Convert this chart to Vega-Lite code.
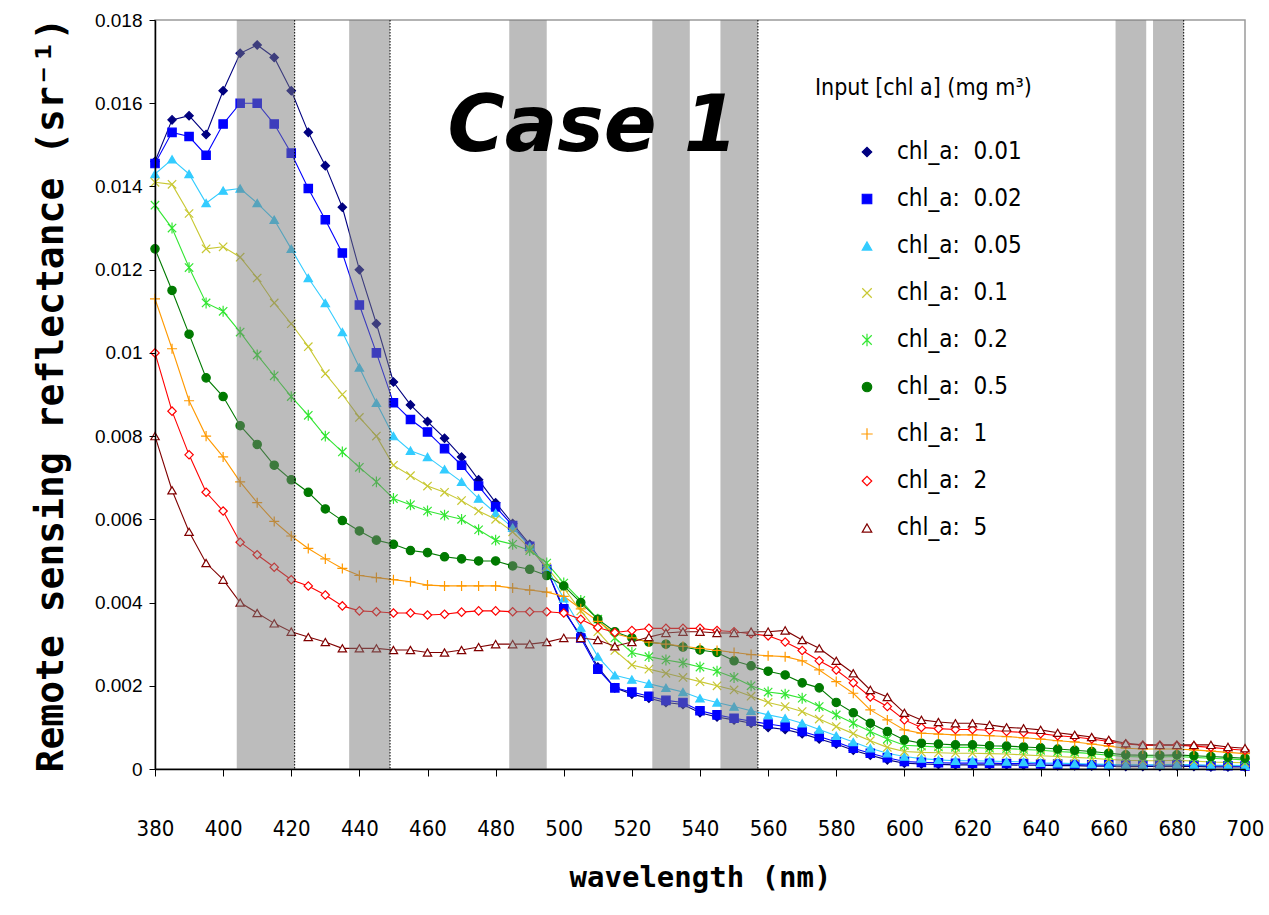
{
"$schema":"https://vega.github.io/schema/vega-lite/v6.json",
"width":1090,"height":749,
"autosize":{"type":"none"},
"padding":{"left":155,"top":20,"right":24,"bottom":146},
"background":"white",
"config":{"view":{"stroke":"#9a9a9a","strokeWidth":1.5},"font":"Liberation Sans"},
"datasets":{
"bands":[{"start":404,"end":421,"edge":true},{"start":437,"end":449,"edge":true},{"start":484,"end":495,"edge":false},{"start":526,"end":537,"edge":false},{"start":546,"end":557,"edge":true},{"start":662,"end":671,"edge":false},{"start":673,"end":682,"edge":true}],
"spectra":[
{"c":"0.01","w":380,"r":0.0146},{"c":"0.01","w":385,"r":0.0156},{"c":"0.01","w":390,"r":0.0157},{"c":"0.01","w":395,"r":0.01525},{"c":"0.01","w":400,"r":0.0163},{"c":"0.01","w":405,"r":0.0172},{"c":"0.01","w":410,"r":0.0174},{"c":"0.01","w":415,"r":0.0171},{"c":"0.01","w":420,"r":0.0163},{"c":"0.01","w":425,"r":0.0153},{"c":"0.01","w":430,"r":0.0145},{"c":"0.01","w":435,"r":0.0135},{"c":"0.01","w":440,"r":0.012},{"c":"0.01","w":445,"r":0.0107},{"c":"0.01","w":450,"r":0.0093},{"c":"0.01","w":455,"r":0.00875},{"c":"0.01","w":460,"r":0.00835},{"c":"0.01","w":465,"r":0.00795},{"c":"0.01","w":470,"r":0.0075},{"c":"0.01","w":475,"r":0.00695},{"c":"0.01","w":480,"r":0.0064},{"c":"0.01","w":485,"r":0.0059},{"c":"0.01","w":490,"r":0.0054},{"c":"0.01","w":495,"r":0.0048},{"c":"0.01","w":500,"r":0.0038},{"c":"0.01","w":505,"r":0.0032},{"c":"0.01","w":510,"r":0.00245},{"c":"0.01","w":515,"r":0.00195},{"c":"0.01","w":520,"r":0.0018},{"c":"0.01","w":525,"r":0.0017},{"c":"0.01","w":530,"r":0.0016},{"c":"0.01","w":535,"r":0.00155},{"c":"0.01","w":540,"r":0.00135},{"c":"0.01","w":545,"r":0.00125},{"c":"0.01","w":550,"r":0.00118},{"c":"0.01","w":555,"r":0.0011},{"c":"0.01","w":560,"r":0.001},{"c":"0.01","w":565,"r":0.00095},{"c":"0.01","w":570,"r":0.00085},{"c":"0.01","w":575,"r":0.00072},{"c":"0.01","w":580,"r":0.0006},{"c":"0.01","w":585,"r":0.00045},{"c":"0.01","w":590,"r":0.00033},{"c":"0.01","w":595,"r":0.00022},{"c":"0.01","w":600,"r":0.00014},{"c":"0.01","w":605,"r":0.00012},{"c":"0.01","w":610,"r":0.00011},{"c":"0.01","w":615,"r":0.0001},{"c":"0.01","w":620,"r":0.0001},{"c":"0.01","w":625,"r":0.0001},{"c":"0.01","w":630,"r":0.0001},{"c":"0.01","w":635,"r":0.00009},{"c":"0.01","w":640,"r":0.00009},{"c":"0.01","w":645,"r":0.00008},{"c":"0.01","w":650,"r":0.00008},{"c":"0.01","w":655,"r":0.00007},{"c":"0.01","w":660,"r":0.00007},{"c":"0.01","w":665,"r":0.00006},{"c":"0.01","w":670,"r":0.00006},{"c":"0.01","w":675,"r":0.00006},{"c":"0.01","w":680,"r":0.00007},{"c":"0.01","w":685,"r":0.00006},{"c":"0.01","w":690,"r":0.00005},{"c":"0.01","w":695,"r":0.00005},{"c":"0.01","w":700,"r":0.00005},
{"c":"0.02","w":380,"r":0.01455},{"c":"0.02","w":385,"r":0.0153},{"c":"0.02","w":390,"r":0.0152},{"c":"0.02","w":395,"r":0.01475},{"c":"0.02","w":400,"r":0.0155},{"c":"0.02","w":405,"r":0.016},{"c":"0.02","w":410,"r":0.016},{"c":"0.02","w":415,"r":0.0155},{"c":"0.02","w":420,"r":0.0148},{"c":"0.02","w":425,"r":0.01395},{"c":"0.02","w":430,"r":0.0132},{"c":"0.02","w":435,"r":0.0124},{"c":"0.02","w":440,"r":0.01115},{"c":"0.02","w":445,"r":0.01},{"c":"0.02","w":450,"r":0.0088},{"c":"0.02","w":455,"r":0.0084},{"c":"0.02","w":460,"r":0.0081},{"c":"0.02","w":465,"r":0.0077},{"c":"0.02","w":470,"r":0.0073},{"c":"0.02","w":475,"r":0.0068},{"c":"0.02","w":480,"r":0.0063},{"c":"0.02","w":485,"r":0.00585},{"c":"0.02","w":490,"r":0.00535},{"c":"0.02","w":495,"r":0.0048},{"c":"0.02","w":500,"r":0.00385},{"c":"0.02","w":505,"r":0.00315},{"c":"0.02","w":510,"r":0.0024},{"c":"0.02","w":515,"r":0.00195},{"c":"0.02","w":520,"r":0.00185},{"c":"0.02","w":525,"r":0.00175},{"c":"0.02","w":530,"r":0.00165},{"c":"0.02","w":535,"r":0.0016},{"c":"0.02","w":540,"r":0.0014},{"c":"0.02","w":545,"r":0.0013},{"c":"0.02","w":550,"r":0.00122},{"c":"0.02","w":555,"r":0.00115},{"c":"0.02","w":560,"r":0.00108},{"c":"0.02","w":565,"r":0.00102},{"c":"0.02","w":570,"r":0.0009},{"c":"0.02","w":575,"r":0.00078},{"c":"0.02","w":580,"r":0.00065},{"c":"0.02","w":585,"r":0.0005},{"c":"0.02","w":590,"r":0.00038},{"c":"0.02","w":595,"r":0.00027},{"c":"0.02","w":600,"r":0.00018},{"c":"0.02","w":605,"r":0.00016},{"c":"0.02","w":610,"r":0.00015},{"c":"0.02","w":615,"r":0.00014},{"c":"0.02","w":620,"r":0.00014},{"c":"0.02","w":625,"r":0.00014},{"c":"0.02","w":630,"r":0.00013},{"c":"0.02","w":635,"r":0.00013},{"c":"0.02","w":640,"r":0.00012},{"c":"0.02","w":645,"r":0.00012},{"c":"0.02","w":650,"r":0.00011},{"c":"0.02","w":655,"r":0.0001},{"c":"0.02","w":660,"r":0.0001},{"c":"0.02","w":665,"r":0.00009},{"c":"0.02","w":670,"r":0.00009},{"c":"0.02","w":675,"r":0.00009},{"c":"0.02","w":680,"r":0.0001},{"c":"0.02","w":685,"r":0.00009},{"c":"0.02","w":690,"r":0.00008},{"c":"0.02","w":695,"r":0.00008},{"c":"0.02","w":700,"r":0.00007},
{"c":"0.05","w":380,"r":0.0143},{"c":"0.05","w":385,"r":0.01465},{"c":"0.05","w":390,"r":0.0143},{"c":"0.05","w":395,"r":0.0136},{"c":"0.05","w":400,"r":0.0139},{"c":"0.05","w":405,"r":0.01395},{"c":"0.05","w":410,"r":0.0136},{"c":"0.05","w":415,"r":0.0132},{"c":"0.05","w":420,"r":0.0125},{"c":"0.05","w":425,"r":0.0118},{"c":"0.05","w":430,"r":0.0112},{"c":"0.05","w":435,"r":0.0105},{"c":"0.05","w":440,"r":0.00965},{"c":"0.05","w":445,"r":0.0088},{"c":"0.05","w":450,"r":0.008},{"c":"0.05","w":455,"r":0.00765},{"c":"0.05","w":460,"r":0.0075},{"c":"0.05","w":465,"r":0.0072},{"c":"0.05","w":470,"r":0.0069},{"c":"0.05","w":475,"r":0.0065},{"c":"0.05","w":480,"r":0.00615},{"c":"0.05","w":485,"r":0.0058},{"c":"0.05","w":490,"r":0.00535},{"c":"0.05","w":495,"r":0.00485},{"c":"0.05","w":500,"r":0.0041},{"c":"0.05","w":505,"r":0.0034},{"c":"0.05","w":510,"r":0.0027},{"c":"0.05","w":515,"r":0.00225},{"c":"0.05","w":520,"r":0.00215},{"c":"0.05","w":525,"r":0.00205},{"c":"0.05","w":530,"r":0.00195},{"c":"0.05","w":535,"r":0.00185},{"c":"0.05","w":540,"r":0.0017},{"c":"0.05","w":545,"r":0.0016},{"c":"0.05","w":550,"r":0.0015},{"c":"0.05","w":555,"r":0.0014},{"c":"0.05","w":560,"r":0.0013},{"c":"0.05","w":565,"r":0.00122},{"c":"0.05","w":570,"r":0.0011},{"c":"0.05","w":575,"r":0.00095},{"c":"0.05","w":580,"r":0.0008},{"c":"0.05","w":585,"r":0.00065},{"c":"0.05","w":590,"r":0.0005},{"c":"0.05","w":595,"r":0.00038},{"c":"0.05","w":600,"r":0.0003},{"c":"0.05","w":605,"r":0.00025},{"c":"0.05","w":610,"r":0.00022},{"c":"0.05","w":615,"r":0.0002},{"c":"0.05","w":620,"r":0.0002},{"c":"0.05","w":625,"r":0.00019},{"c":"0.05","w":630,"r":0.00018},{"c":"0.05","w":635,"r":0.00017},{"c":"0.05","w":640,"r":0.00015},{"c":"0.05","w":645,"r":0.00014},{"c":"0.05","w":650,"r":0.00013},{"c":"0.05","w":655,"r":0.00012},{"c":"0.05","w":660,"r":0.00011},{"c":"0.05","w":665,"r":0.0001},{"c":"0.05","w":670,"r":0.0001},{"c":"0.05","w":675,"r":0.0001},{"c":"0.05","w":680,"r":0.00011},{"c":"0.05","w":685,"r":0.0001},{"c":"0.05","w":690,"r":0.00009},{"c":"0.05","w":695,"r":0.00009},{"c":"0.05","w":700,"r":0.00008},
{"c":"0.1","w":380,"r":0.0141},{"c":"0.1","w":385,"r":0.01405},{"c":"0.1","w":390,"r":0.01335},{"c":"0.1","w":395,"r":0.0125},{"c":"0.1","w":400,"r":0.01255},{"c":"0.1","w":405,"r":0.0123},{"c":"0.1","w":410,"r":0.0118},{"c":"0.1","w":415,"r":0.0112},{"c":"0.1","w":420,"r":0.0107},{"c":"0.1","w":425,"r":0.01015},{"c":"0.1","w":430,"r":0.0095},{"c":"0.1","w":435,"r":0.009},{"c":"0.1","w":440,"r":0.00845},{"c":"0.1","w":445,"r":0.008},{"c":"0.1","w":450,"r":0.0073},{"c":"0.1","w":455,"r":0.00705},{"c":"0.1","w":460,"r":0.0068},{"c":"0.1","w":465,"r":0.00665},{"c":"0.1","w":470,"r":0.00645},{"c":"0.1","w":475,"r":0.0062},{"c":"0.1","w":480,"r":0.006},{"c":"0.1","w":485,"r":0.0057},{"c":"0.1","w":490,"r":0.0053},{"c":"0.1","w":495,"r":0.00485},{"c":"0.1","w":500,"r":0.00435},{"c":"0.1","w":505,"r":0.0038},{"c":"0.1","w":510,"r":0.0033},{"c":"0.1","w":515,"r":0.00285},{"c":"0.1","w":520,"r":0.0025},{"c":"0.1","w":525,"r":0.0024},{"c":"0.1","w":530,"r":0.0023},{"c":"0.1","w":535,"r":0.0022},{"c":"0.1","w":540,"r":0.0021},{"c":"0.1","w":545,"r":0.002},{"c":"0.1","w":550,"r":0.0019},{"c":"0.1","w":555,"r":0.00175},{"c":"0.1","w":560,"r":0.0016},{"c":"0.1","w":565,"r":0.0015},{"c":"0.1","w":570,"r":0.00138},{"c":"0.1","w":575,"r":0.0012},{"c":"0.1","w":580,"r":0.00102},{"c":"0.1","w":585,"r":0.00085},{"c":"0.1","w":590,"r":0.00068},{"c":"0.1","w":595,"r":0.00052},{"c":"0.1","w":600,"r":0.00042},{"c":"0.1","w":605,"r":0.0004},{"c":"0.1","w":610,"r":0.00039},{"c":"0.1","w":615,"r":0.00038},{"c":"0.1","w":620,"r":0.00038},{"c":"0.1","w":625,"r":0.00037},{"c":"0.1","w":630,"r":0.00036},{"c":"0.1","w":635,"r":0.00034},{"c":"0.1","w":640,"r":0.00032},{"c":"0.1","w":645,"r":0.0003},{"c":"0.1","w":650,"r":0.00028},{"c":"0.1","w":655,"r":0.00026},{"c":"0.1","w":660,"r":0.00023},{"c":"0.1","w":665,"r":0.00021},{"c":"0.1","w":670,"r":0.0002},{"c":"0.1","w":675,"r":0.0002},{"c":"0.1","w":680,"r":0.00021},{"c":"0.1","w":685,"r":0.00019},{"c":"0.1","w":690,"r":0.00017},{"c":"0.1","w":695,"r":0.00016},{"c":"0.1","w":700,"r":0.00015},
{"c":"0.2","w":380,"r":0.01355},{"c":"0.2","w":385,"r":0.013},{"c":"0.2","w":390,"r":0.01205},{"c":"0.2","w":395,"r":0.0112},{"c":"0.2","w":400,"r":0.011},{"c":"0.2","w":405,"r":0.0105},{"c":"0.2","w":410,"r":0.00995},{"c":"0.2","w":415,"r":0.00945},{"c":"0.2","w":420,"r":0.00895},{"c":"0.2","w":425,"r":0.0085},{"c":"0.2","w":430,"r":0.008},{"c":"0.2","w":435,"r":0.00762},{"c":"0.2","w":440,"r":0.00725},{"c":"0.2","w":445,"r":0.0069},{"c":"0.2","w":450,"r":0.0065},{"c":"0.2","w":455,"r":0.00635},{"c":"0.2","w":460,"r":0.0062},{"c":"0.2","w":465,"r":0.0061},{"c":"0.2","w":470,"r":0.006},{"c":"0.2","w":475,"r":0.00575},{"c":"0.2","w":480,"r":0.0055},{"c":"0.2","w":485,"r":0.0054},{"c":"0.2","w":490,"r":0.00525},{"c":"0.2","w":495,"r":0.00495},{"c":"0.2","w":500,"r":0.00447},{"c":"0.2","w":505,"r":0.00405},{"c":"0.2","w":510,"r":0.0036},{"c":"0.2","w":515,"r":0.00315},{"c":"0.2","w":520,"r":0.0028},{"c":"0.2","w":525,"r":0.0027},{"c":"0.2","w":530,"r":0.00262},{"c":"0.2","w":535,"r":0.00255},{"c":"0.2","w":540,"r":0.00245},{"c":"0.2","w":545,"r":0.00235},{"c":"0.2","w":550,"r":0.0022},{"c":"0.2","w":555,"r":0.002},{"c":"0.2","w":560,"r":0.00185},{"c":"0.2","w":565,"r":0.0018},{"c":"0.2","w":570,"r":0.0017},{"c":"0.2","w":575,"r":0.0015},{"c":"0.2","w":580,"r":0.0013},{"c":"0.2","w":585,"r":0.0011},{"c":"0.2","w":590,"r":0.0009},{"c":"0.2","w":595,"r":0.00072},{"c":"0.2","w":600,"r":0.00057},{"c":"0.2","w":605,"r":0.00055},{"c":"0.2","w":610,"r":0.00053},{"c":"0.2","w":615,"r":0.00052},{"c":"0.2","w":620,"r":0.00052},{"c":"0.2","w":625,"r":0.0005},{"c":"0.2","w":630,"r":0.00049},{"c":"0.2","w":635,"r":0.00047},{"c":"0.2","w":640,"r":0.00045},{"c":"0.2","w":645,"r":0.00042},{"c":"0.2","w":650,"r":0.0004},{"c":"0.2","w":655,"r":0.00037},{"c":"0.2","w":660,"r":0.00033},{"c":"0.2","w":665,"r":0.0003},{"c":"0.2","w":670,"r":0.00029},{"c":"0.2","w":675,"r":0.00029},{"c":"0.2","w":680,"r":0.0003},{"c":"0.2","w":685,"r":0.00028},{"c":"0.2","w":690,"r":0.00026},{"c":"0.2","w":695,"r":0.00024},{"c":"0.2","w":700,"r":0.00022},
{"c":"0.5","w":380,"r":0.0125},{"c":"0.5","w":385,"r":0.0115},{"c":"0.5","w":390,"r":0.01045},{"c":"0.5","w":395,"r":0.0094},{"c":"0.5","w":400,"r":0.00895},{"c":"0.5","w":405,"r":0.00825},{"c":"0.5","w":410,"r":0.0078},{"c":"0.5","w":415,"r":0.0073},{"c":"0.5","w":420,"r":0.00695},{"c":"0.5","w":425,"r":0.00665},{"c":"0.5","w":430,"r":0.00625},{"c":"0.5","w":435,"r":0.00597},{"c":"0.5","w":440,"r":0.00572},{"c":"0.5","w":445,"r":0.0055},{"c":"0.5","w":450,"r":0.0054},{"c":"0.5","w":455,"r":0.00525},{"c":"0.5","w":460,"r":0.0052},{"c":"0.5","w":465,"r":0.0051},{"c":"0.5","w":470,"r":0.00505},{"c":"0.5","w":475,"r":0.005},{"c":"0.5","w":480,"r":0.005},{"c":"0.5","w":485,"r":0.00488},{"c":"0.5","w":490,"r":0.0048},{"c":"0.5","w":495,"r":0.00465},{"c":"0.5","w":500,"r":0.0044},{"c":"0.5","w":505,"r":0.004},{"c":"0.5","w":510,"r":0.0036},{"c":"0.5","w":515,"r":0.0033},{"c":"0.5","w":520,"r":0.00315},{"c":"0.5","w":525,"r":0.00305},{"c":"0.5","w":530,"r":0.003},{"c":"0.5","w":535,"r":0.00293},{"c":"0.5","w":540,"r":0.00286},{"c":"0.5","w":545,"r":0.0028},{"c":"0.5","w":550,"r":0.0026},{"c":"0.5","w":555,"r":0.00248},{"c":"0.5","w":560,"r":0.00235},{"c":"0.5","w":565,"r":0.00226},{"c":"0.5","w":570,"r":0.00207},{"c":"0.5","w":575,"r":0.00195},{"c":"0.5","w":580,"r":0.0016},{"c":"0.5","w":585,"r":0.00135},{"c":"0.5","w":590,"r":0.0011},{"c":"0.5","w":595,"r":0.0009},{"c":"0.5","w":600,"r":0.0007},{"c":"0.5","w":605,"r":0.00062},{"c":"0.5","w":610,"r":0.0006},{"c":"0.5","w":615,"r":0.00058},{"c":"0.5","w":620,"r":0.00058},{"c":"0.5","w":625,"r":0.00056},{"c":"0.5","w":630,"r":0.00055},{"c":"0.5","w":635,"r":0.00053},{"c":"0.5","w":640,"r":0.00051},{"c":"0.5","w":645,"r":0.00048},{"c":"0.5","w":650,"r":0.00045},{"c":"0.5","w":655,"r":0.00042},{"c":"0.5","w":660,"r":0.00038},{"c":"0.5","w":665,"r":0.00034},{"c":"0.5","w":670,"r":0.00033},{"c":"0.5","w":675,"r":0.00033},{"c":"0.5","w":680,"r":0.00034},{"c":"0.5","w":685,"r":0.00032},{"c":"0.5","w":690,"r":0.0003},{"c":"0.5","w":695,"r":0.00028},{"c":"0.5","w":700,"r":0.00026},
{"c":"1","w":380,"r":0.0113},{"c":"1","w":385,"r":0.0101},{"c":"1","w":390,"r":0.00885},{"c":"1","w":395,"r":0.008},{"c":"1","w":400,"r":0.0075},{"c":"1","w":405,"r":0.0069},{"c":"1","w":410,"r":0.0064},{"c":"1","w":415,"r":0.00595},{"c":"1","w":420,"r":0.0056},{"c":"1","w":425,"r":0.0053},{"c":"1","w":430,"r":0.00505},{"c":"1","w":435,"r":0.00482},{"c":"1","w":440,"r":0.00465},{"c":"1","w":445,"r":0.0046},{"c":"1","w":450,"r":0.00455},{"c":"1","w":455,"r":0.0045},{"c":"1","w":460,"r":0.00442},{"c":"1","w":465,"r":0.0044},{"c":"1","w":470,"r":0.0044},{"c":"1","w":475,"r":0.0044},{"c":"1","w":480,"r":0.0044},{"c":"1","w":485,"r":0.00435},{"c":"1","w":490,"r":0.0043},{"c":"1","w":495,"r":0.00425},{"c":"1","w":500,"r":0.00415},{"c":"1","w":505,"r":0.00385},{"c":"1","w":510,"r":0.00355},{"c":"1","w":515,"r":0.00325},{"c":"1","w":520,"r":0.00315},{"c":"1","w":525,"r":0.00305},{"c":"1","w":530,"r":0.003},{"c":"1","w":535,"r":0.00295},{"c":"1","w":540,"r":0.0029},{"c":"1","w":545,"r":0.00285},{"c":"1","w":550,"r":0.0028},{"c":"1","w":555,"r":0.00275},{"c":"1","w":560,"r":0.00272},{"c":"1","w":565,"r":0.0027},{"c":"1","w":570,"r":0.0026},{"c":"1","w":575,"r":0.00238},{"c":"1","w":580,"r":0.0021},{"c":"1","w":585,"r":0.00182},{"c":"1","w":590,"r":0.00142},{"c":"1","w":595,"r":0.00118},{"c":"1","w":600,"r":0.00094},{"c":"1","w":605,"r":0.00086},{"c":"1","w":610,"r":0.00084},{"c":"1","w":615,"r":0.00082},{"c":"1","w":620,"r":0.00082},{"c":"1","w":625,"r":0.0008},{"c":"1","w":630,"r":0.00078},{"c":"1","w":635,"r":0.00075},{"c":"1","w":640,"r":0.00072},{"c":"1","w":645,"r":0.00068},{"c":"1","w":650,"r":0.00065},{"c":"1","w":655,"r":0.0006},{"c":"1","w":660,"r":0.00055},{"c":"1","w":665,"r":0.0005},{"c":"1","w":670,"r":0.00048},{"c":"1","w":675,"r":0.00048},{"c":"1","w":680,"r":0.00048},{"c":"1","w":685,"r":0.00046},{"c":"1","w":690,"r":0.00043},{"c":"1","w":695,"r":0.0004},{"c":"1","w":700,"r":0.00037},
{"c":"2","w":380,"r":0.01},{"c":"2","w":385,"r":0.0086},{"c":"2","w":390,"r":0.00755},{"c":"2","w":395,"r":0.00665},{"c":"2","w":400,"r":0.0062},{"c":"2","w":405,"r":0.00545},{"c":"2","w":410,"r":0.00515},{"c":"2","w":415,"r":0.00485},{"c":"2","w":420,"r":0.00455},{"c":"2","w":425,"r":0.0044},{"c":"2","w":430,"r":0.00418},{"c":"2","w":435,"r":0.00392},{"c":"2","w":440,"r":0.0038},{"c":"2","w":445,"r":0.00378},{"c":"2","w":450,"r":0.00375},{"c":"2","w":455,"r":0.00375},{"c":"2","w":460,"r":0.0037},{"c":"2","w":465,"r":0.00372},{"c":"2","w":470,"r":0.00377},{"c":"2","w":475,"r":0.0038},{"c":"2","w":480,"r":0.0038},{"c":"2","w":485,"r":0.00378},{"c":"2","w":490,"r":0.00378},{"c":"2","w":495,"r":0.00378},{"c":"2","w":500,"r":0.00375},{"c":"2","w":505,"r":0.0036},{"c":"2","w":510,"r":0.0034},{"c":"2","w":515,"r":0.00328},{"c":"2","w":520,"r":0.00333},{"c":"2","w":525,"r":0.00338},{"c":"2","w":530,"r":0.00338},{"c":"2","w":535,"r":0.00338},{"c":"2","w":540,"r":0.00338},{"c":"2","w":545,"r":0.00333},{"c":"2","w":550,"r":0.0033},{"c":"2","w":555,"r":0.00325},{"c":"2","w":560,"r":0.0032},{"c":"2","w":565,"r":0.00305},{"c":"2","w":570,"r":0.00285},{"c":"2","w":575,"r":0.0026},{"c":"2","w":580,"r":0.00238},{"c":"2","w":585,"r":0.00207},{"c":"2","w":590,"r":0.00173},{"c":"2","w":595,"r":0.0015},{"c":"2","w":600,"r":0.00118},{"c":"2","w":605,"r":0.001},{"c":"2","w":610,"r":0.00097},{"c":"2","w":615,"r":0.00095},{"c":"2","w":620,"r":0.00095},{"c":"2","w":625,"r":0.00093},{"c":"2","w":630,"r":0.0009},{"c":"2","w":635,"r":0.00088},{"c":"2","w":640,"r":0.00085},{"c":"2","w":645,"r":0.0008},{"c":"2","w":650,"r":0.00077},{"c":"2","w":655,"r":0.00072},{"c":"2","w":660,"r":0.00066},{"c":"2","w":665,"r":0.0006},{"c":"2","w":670,"r":0.00057},{"c":"2","w":675,"r":0.00057},{"c":"2","w":680,"r":0.00057},{"c":"2","w":685,"r":0.00055},{"c":"2","w":690,"r":0.00052},{"c":"2","w":695,"r":0.00048},{"c":"2","w":700,"r":0.00045},
{"c":"5","w":380,"r":0.008},{"c":"5","w":385,"r":0.0067},{"c":"5","w":390,"r":0.0057},{"c":"5","w":395,"r":0.00495},{"c":"5","w":400,"r":0.00455},{"c":"5","w":405,"r":0.004},{"c":"5","w":410,"r":0.00375},{"c":"5","w":415,"r":0.0035},{"c":"5","w":420,"r":0.0033},{"c":"5","w":425,"r":0.00317},{"c":"5","w":430,"r":0.00305},{"c":"5","w":435,"r":0.0029},{"c":"5","w":440,"r":0.0029},{"c":"5","w":445,"r":0.0029},{"c":"5","w":450,"r":0.00286},{"c":"5","w":455,"r":0.00286},{"c":"5","w":460,"r":0.0028},{"c":"5","w":465,"r":0.0028},{"c":"5","w":470,"r":0.00286},{"c":"5","w":475,"r":0.00293},{"c":"5","w":480,"r":0.003},{"c":"5","w":485,"r":0.003},{"c":"5","w":490,"r":0.003},{"c":"5","w":495,"r":0.00305},{"c":"5","w":500,"r":0.00315},{"c":"5","w":505,"r":0.00315},{"c":"5","w":510,"r":0.0031},{"c":"5","w":515,"r":0.00295},{"c":"5","w":520,"r":0.00305},{"c":"5","w":525,"r":0.00317},{"c":"5","w":530,"r":0.00327},{"c":"5","w":535,"r":0.0033},{"c":"5","w":540,"r":0.0033},{"c":"5","w":545,"r":0.00327},{"c":"5","w":550,"r":0.00327},{"c":"5","w":555,"r":0.0033},{"c":"5","w":560,"r":0.0033},{"c":"5","w":565,"r":0.00333},{"c":"5","w":570,"r":0.0031},{"c":"5","w":575,"r":0.0029},{"c":"5","w":580,"r":0.0026},{"c":"5","w":585,"r":0.0023},{"c":"5","w":590,"r":0.0019},{"c":"5","w":595,"r":0.00173},{"c":"5","w":600,"r":0.00135},{"c":"5","w":605,"r":0.00118},{"c":"5","w":610,"r":0.00113},{"c":"5","w":615,"r":0.0011},{"c":"5","w":620,"r":0.0011},{"c":"5","w":625,"r":0.00106},{"c":"5","w":630,"r":0.001},{"c":"5","w":635,"r":0.00098},{"c":"5","w":640,"r":0.00094},{"c":"5","w":645,"r":0.00087},{"c":"5","w":650,"r":0.00082},{"c":"5","w":655,"r":0.00077},{"c":"5","w":660,"r":0.0007},{"c":"5","w":665,"r":0.00062},{"c":"5","w":670,"r":0.00058},{"c":"5","w":675,"r":0.00058},{"c":"5","w":680,"r":0.00058},{"c":"5","w":685,"r":0.00058},{"c":"5","w":690,"r":0.00058},{"c":"5","w":695,"r":0.00053},{"c":"5","w":700,"r":0.0005}
]},
"layer":[
{"data":{"name":"spectra"},
 "mark":{"type":"line","strokeWidth":1.1},
 "encoding":{
  "x":{"field":"w","type":"quantitative","scale":{"domain":[380,700],"nice":false,"zero":false},
   "axis":{"values":[380,400,420,440,460,480,500,520,540,560,580,600,620,640,660,680,700],"title":"wavelength (nm)","titleFont":"DejaVu Sans Mono","titleFontWeight":"bold","titleFontSize":29,"titleColor":"black","titlePadding":24,"labelFont":"Liberation Sans Narrow, DejaVu Sans Condensed, sans-serif","labelFontSize":22,"labelColor":"black","labelPadding":42,"labelFlush":false,"tickColor":"black","tickSize":7,"domainColor":"black","domainWidth":1.5,"grid":false,"zindex":1}},
  "y":{"field":"r","type":"quantitative","scale":{"domain":[0,0.018],"nice":false,"zero":true},
   "axis":{"values":[0,0.002,0.004,0.006,0.008,0.01,0.012,0.014,0.016,0.018],"format":"~f","title":"Remote sensing reflectance (sr⁻¹)","titleFont":"DejaVu Sans Mono","titleFontWeight":"bold","titleFontSize":38,"titleColor":"black","titlePadding":24,"labelFont":"Liberation Sans, Arial, sans-serif","labelFontSize":19,"labelColor":"black","labelPadding":7,"tickColor":"black","tickSize":6,"domainColor":"black","domainWidth":1.5,"grid":false,"zindex":1}},
  "stroke":{"field":"c","type":"nominal","scale":{"domain":["0.01","0.02","0.05","0.1","0.2","0.5","1","2","5"],"range":["#000080","#0000ff","#33ccff","#c8c832","#33e633","#007a00","#ff9900","#ff0000","#800000"]}},
  "order":{"field":"w","type":"quantitative"}
 }},
{"data":{"name":"spectra"},
 "mark":{"type":"point","size":70,"strokeWidth":1.2,"opacity":1,"fillOpacity":1},
 "encoding":{
  "x":{"field":"w","type":"quantitative"},
  "y":{"field":"r","type":"quantitative"},
  "stroke":{"field":"c","type":"nominal","legend":{"title":"Input [chl a] (mg m³)","orient":"none","legendX":660,"legendY":57,"titleFont":"Liberation Sans Narrow, DejaVu Sans Condensed, sans-serif","titleFontSize":23,"titleFontWeight":"normal","titleColor":"black","titleLimit":500,"titlePadding":40,"labelFont":"Liberation Sans Narrow, DejaVu Sans Condensed, sans-serif","labelFontSize":24,"labelColor":"black","labelLimit":400,"symbolSize":90,"symbolOffset":40,"labelOffset":18,"rowPadding":23,"symbolStrokeWidth":1.2,"labelExpr":"'chl_a:\u00a0 ' + datum.label"}},
  "fill":{"field":"c","type":"nominal","scale":{"domain":["0.01","0.02","0.05","0.1","0.2","0.5","1","2","5"],"range":["#000080","#0000ff","#33ccff","#c8c832","#33e633","#007a00","#ff9900","#ffffff","#ffffff"]},"legend":{"title":"Input [chl a] (mg m³)"}},
  "shape":{"field":"c","type":"nominal","scale":{"domain":["0.01","0.02","0.05","0.1","0.2","0.5","1","2","5"],"range":["diamond","square","triangle-up","M-1,-1L1,1M-1,1L1,-1","M-1,-1L1,1M-1,1L1,-1M0,-1.3L0,1.3","circle","M-1.2,0L1.2,0M0,-1.2L0,1.2","diamond","triangle-up"]},"legend":{"title":"Input [chl a] (mg m³)"}}
 }},
{"data":{"name":"bands"},
 "mark":{"type":"rect","fill":"#7a7a7a","opacity":0.5},
 "encoding":{"x":{"field":"start","type":"quantitative"},"x2":{"field":"end"}}},
{"data":{"name":"bands"},
 "transform":[{"filter":"datum.edge"}],
 "mark":{"type":"rule","color":"black","strokeWidth":1,"strokeDash":[1.5,1.5]},
 "encoding":{"x":{"field":"end","type":"quantitative"}}},
{"data":{"values":[{}]},
 "mark":{"type":"text","font":"DejaVu Sans","fontWeight":"bold","fontStyle":"italic","fontSize":78,"align":"center","baseline":"alphabetic","color":"black"},
 "encoding":{"x":{"datum":508.5},"y":{"datum":0.01485},"text":{"value":"Case  1"}}}
]
}
